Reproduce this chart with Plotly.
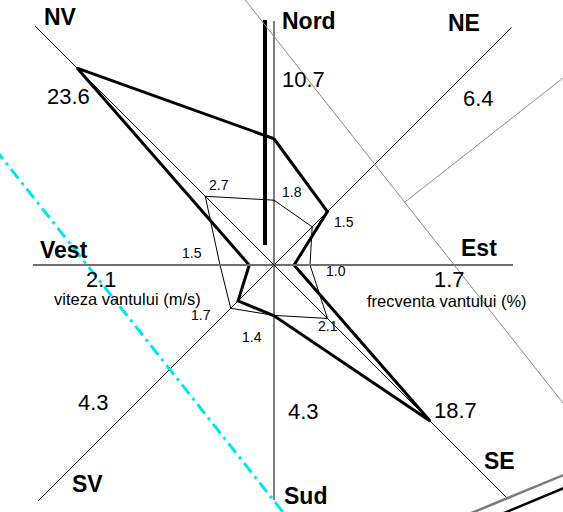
import math
import plotly.graph_objects as go

# ---- data ----
DIRECTIONS = ["Nord", "NE", "Est", "SE", "Sud", "SV", "Vest", "NV"]
ANGLES_DEG = [0, 45, 90, 135, 180, 225, 270, 315]
FREQ_PCT = [10.7, 6.4, 1.7, 18.7, 4.3, 4.3, 2.1, 23.6]      # frecventa vantului (%)
SPEED_MS = [1.8, 1.5, 1.0, 2.1, 1.4, 1.7, 1.5, 2.7]        # viteza vantului (m/s)
FREQ_TITLE = "frecventa vantului (%)"
SPEED_TITLE = "viteza vantului (m/s)"

# ---- layout constants (pixel-like drawing units) ----
W, H = 563, 512
CX, CY = 274, 265
K_FREQ = 11.8     # drawing units per %
K_SPEED = 36.0    # drawing units per m/s
AXIS_LEN = [244, 336, 239, 330, 235, 334, 241, 338]

FREQ_LABEL_POS = [(303, 79), (478, 98), (449, 279), (455, 410),
                  (303, 411), (93, 402), (101, 279), (68, 96)]
SPEED_LABEL_POS = [(292, 192), (344, 222), (336, 271), (328, 326),
                   (252, 337), (201, 315), (192, 253), (219, 185)]
DIR_LABEL_POS = [(309, 21), (464, 23), (479, 248), (499, 461),
                 (305, 496), (87, 484), (64, 250), (60, 17)]

FONT = "Liberation Sans, Arial, sans-serif"


def polar_xy(values, k):
    xs, ys = [], []
    for v, a in zip(values, ANGLES_DEG):
        t = math.radians(a)
        xs.append(CX + k * v * math.sin(t))
        ys.append(CY - k * v * math.cos(t))
    xs.append(xs[0])
    ys.append(ys[0])
    return xs, ys


fig = go.Figure()

# axis rays
shapes = []
for a, L in zip(ANGLES_DEG, AXIS_LEN):
    t = math.radians(a)
    horiz = a in (90, 270)
    shapes.append(dict(type="line", xref="x", yref="y",
                       x0=CX, y0=CY,
                       x1=CX + L * math.sin(t), y1=CY - L * math.cos(t),
                       line=dict(color="#6e6e6e" if horiz else "#000000",
                                 width=2 if horiz else 1)))

# decorative drawing lines from the original sheet
shapes += [
    dict(type="line", xref="x", yref="y", x0=265, y0=20, x1=265, y1=245,
         line=dict(color="black", width=4)),
    dict(type="line", xref="x", yref="y", x0=235, y0=-13, x1=600, y1=450,
         line=dict(color="#8a8a8a", width=1)),
    dict(type="line", xref="x", yref="y", x0=405, y0=202, x1=600, y1=49,
         line=dict(color="#8a8a8a", width=1)),
    dict(type="line", xref="x", yref="y", x0=-20, y0=130, x1=290, y1=521,
         line=dict(color="#00e5ee", width=3, dash="12px,5px,3px,5px")),
    dict(type="line", xref="x", yref="y", x0=440, y0=526, x1=600, y1=460,
         line=dict(color="#7a7a7a", width=2.5)),
    dict(type="line", xref="x", yref="y", x0=480, y0=523, x1=600, y1=473,
         line=dict(color="black", width=2.5)),
]

# speed polygon (thin)
sx, sy = polar_xy(SPEED_MS, K_SPEED)
fig.add_trace(go.Scatter(x=sx, y=sy, mode="lines",
                         line=dict(color="black", width=1), hoverinfo="skip"))
# frequency polygon (thick)
fx, fy = polar_xy(FREQ_PCT, K_FREQ)
fig.add_trace(go.Scatter(x=fx, y=fy, mode="lines",
                         line=dict(color="black", width=3), hoverinfo="skip"))

annotations = []
for name, (x, y) in zip(DIRECTIONS, DIR_LABEL_POS):
    annotations.append(dict(x=x, y=y, xref="x", yref="y", text="<b>%s</b>" % name,
                            showarrow=False, xanchor="center", yanchor="middle",
                            font=dict(family=FONT, size=23, color="black")))
for v, (x, y) in zip(FREQ_PCT, FREQ_LABEL_POS):
    annotations.append(dict(x=x, y=y, xref="x", yref="y", text="%.1f" % v,
                            showarrow=False, xanchor="center", yanchor="middle",
                            font=dict(family=FONT, size=22, color="black")))
for v, (x, y) in zip(SPEED_MS, SPEED_LABEL_POS):
    annotations.append(dict(x=x, y=y, xref="x", yref="y", text="%.1f" % v,
                            showarrow=False, xanchor="center", yanchor="middle",
                            font=dict(family=FONT, size=14, color="black")))
annotations.append(dict(x=127, y=299, xref="x", yref="y", text=SPEED_TITLE,
                        showarrow=False, xanchor="center", yanchor="middle",
                        font=dict(family=FONT, size=16.5, color="black")))
annotations.append(dict(x=447, y=301, xref="x", yref="y", text=FREQ_TITLE,
                        showarrow=False, xanchor="center", yanchor="middle",
                        font=dict(family=FONT, size=16.5, color="black")))

fig.update_layout(
    width=W, height=H,
    margin=dict(l=0, r=0, t=0, b=0),
    paper_bgcolor="white", plot_bgcolor="white",
    showlegend=False,
    xaxis=dict(range=[0, W], visible=False, fixedrange=True),
    yaxis=dict(range=[H, 0], visible=False, fixedrange=True),
    shapes=shapes,
    annotations=annotations,
)

fig.write_html("out.html",
               config={"displayModeBar": False},
               post_script="document.body.style.margin='0';"
                           "document.body.style.overflow='hidden';")
